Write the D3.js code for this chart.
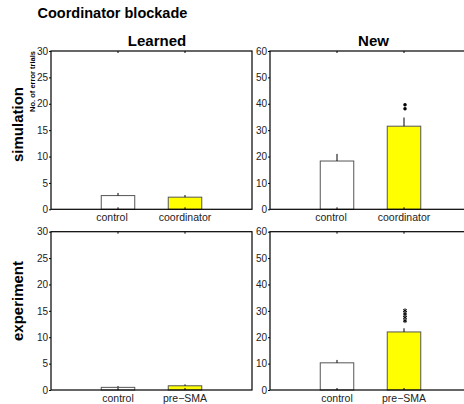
<!DOCTYPE html>
<html>
<head>
<meta charset="utf-8">
<script src="https://cdn.jsdelivr.net/npm/d3@7"></script>
<style>
  body { margin: 0; background: #fff; }
  text { font-family: "Liberation Sans", Arial, sans-serif; }
</style>
</head>
<body>
<div id="chart"></div>
<script>
// values
var groupsSim = ["control", "coordinator"];
var groupsExp = ["control", "pre\u2212SMA"];

var simLearned = [2.6, 2.3];
var simLearnedErr = [0.5, 0.4];
var simNew = [18.3, 31.5];
var simNewErr = [2.7, 3.3];

var expLearned = [0.5, 0.8];
var expLearnedErr = [0.25, 0.27];
var expNew = [10.3, 22.0];
var expNewErr = [1.1, 1.4];

var simMarks = [39.6, 38.1];
var expMarks = [30.1, 28.8, 27.5, 26.2];

var learnedTicks = [0, 5, 10, 15, 20, 25, 30];
var newTicks = [0, 10, 20, 30, 40, 50, 60];

var W = 464, H = 404;
var svg = d3.select("#chart").append("svg")
    .attr("width", W).attr("height", H);

var colX = [51, 270], colW = 201;
var rowY = [51, 231.7], rowH = 158.3;
var barColor = ["#ffffff", "#ffff00"];

function drawPanel(col, row, groups, vals, errs, maxY, ticks, marks, markType, labelShift) {
    var x0 = colX[col], y0 = rowY[row];
    var g = svg.append("g").attr("transform", "translate(" + x0 + "," + y0 + ")");

    var x = d3.scaleLinear().domain([0, 3]).range([0, colW]);
    var y = d3.scaleLinear().domain([0, maxY]).range([rowH, 0]);
    var bw = x(0.5) - x(0);

    // bars
    g.selectAll("rect.bar").data(vals).enter().append("rect")
        .attr("x", function (d, i) { return x(i + 1) - bw / 2; })
        .attr("y", function (d) { return y(d); })
        .attr("width", bw)
        .attr("height", function (d) { return y(0) - y(d); })
        .attr("fill", function (d, i) { return barColor[i]; })
        .attr("stroke", "#555")
        .attr("stroke-width", 1);

    // error bars (upper only)
    g.selectAll("line.err").data(vals).enter().append("line")
        .attr("x1", function (d, i) { return x(i + 1); })
        .attr("x2", function (d, i) { return x(i + 1); })
        .attr("y1", function (d) { return y(d); })
        .attr("y2", function (d, i) { return y(d + errs[i]); })
        .attr("stroke", "#000")
        .attr("stroke-width", 1);

    // significance marks above second bar
    if (marks) {
        var sym = markType === "dot"
            ? d3.symbol().type(d3.symbolCircle).size(7)
            : d3.symbol().type(d3.symbolAsterisk).size(14);
        g.selectAll("path.mark").data(marks).enter().append("path")
            .attr("transform", function (d) { return "translate(" + (x(2) + 1) + "," + y(d) + ")"; })
            .attr("d", sym)
            .attr("fill", markType === "dot" ? "#000" : "none")
            .attr("stroke", "#000")
            .attr("stroke-width", markType === "dot" ? 0.5 : 1);
    }

    // box
    g.append("rect")
        .attr("x", 0).attr("y", 0)
        .attr("width", colW).attr("height", rowH)
        .attr("fill", "none")
        .attr("stroke", "#000")
        .attr("stroke-width", 1.2);

    // y axis
    var yAxis = d3.axisLeft(y).tickValues(ticks).tickSize(2).tickPadding(1);
    var ya = g.append("g").call(yAxis);
    ya.select(".domain").remove();
    ya.selectAll("text").attr("font-size", 10).attr("fill", "#222")
        .style("font-family", "'Liberation Sans', Arial, sans-serif");
    ya.selectAll("line").attr("stroke", "#000");

    // x ticks top and bottom, inward
    [1, 2].forEach(function (k) {
        g.append("line").attr("x1", x(k)).attr("x2", x(k)).attr("y1", 0).attr("y2", 2).attr("stroke", "#000");
        g.append("line").attr("x1", x(k)).attr("x2", x(k)).attr("y1", rowH).attr("y2", rowH - 2).attr("stroke", "#000");
    });

    // x labels
    g.selectAll("text.xl").data(groups).enter().append("text")
        .attr("x", function (d, i) { return x(i + 1) + (i === 0 ? labelShift : 0); })
        .attr("y", rowH + 12)
        .attr("text-anchor", "middle")
        .attr("font-size", 10.5)
        .attr("fill", "#222")
        .text(function (d) { return d; });
}

drawPanel(0, 0, groupsSim, simLearned, simLearnedErr, 30, learnedTicks, null, null, -6);
drawPanel(1, 0, groupsSim, simNew, simNewErr, 60, newTicks, simMarks, "dot", -6);
drawPanel(0, 1, groupsExp, expLearned, expLearnedErr, 30, learnedTicks, null, null, 0);
drawPanel(1, 1, groupsExp, expNew, expNewErr, 60, newTicks, expMarks, "star", 0);

// titles
svg.append("text").attr("x", 37.5).attr("y", 17.5)
    .attr("font-size", 14.5).attr("font-weight", "bold")
    .text("Coordinator blockade");

svg.append("text").attr("x", 157).attr("y", 46)
    .attr("text-anchor", "middle")
    .attr("font-size", 15).attr("font-weight", "bold")
    .text("Learned");

svg.append("text").attr("x", 373.5).attr("y", 46)
    .attr("text-anchor", "middle")
    .attr("font-size", 15).attr("font-weight", "bold")
    .text("New");

svg.append("text")
    .attr("transform", "translate(23,124.5) rotate(-90)")
    .attr("text-anchor", "middle")
    .attr("font-size", 15).attr("font-weight", "bold")
    .text("simulation");

svg.append("text")
    .attr("transform", "translate(23,301) rotate(-90)")
    .attr("text-anchor", "middle")
    .attr("font-size", 15).attr("font-weight", "bold")
    .text("experiment");

svg.append("text")
    .attr("transform", "translate(35,81.5) rotate(-90)")
    .attr("text-anchor", "middle")
    .attr("font-size", 7.5).attr("font-weight", "bold")
    .text("No. of error trials");
</script>
</body>
</html>
